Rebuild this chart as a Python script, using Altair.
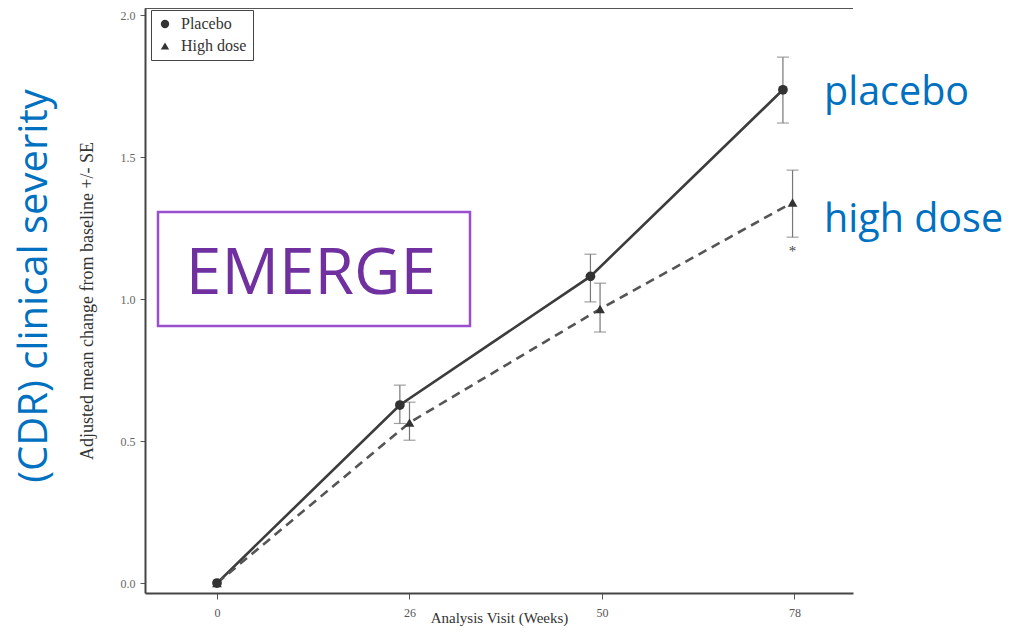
import json
import altair as alt
import pandas as pd

# ---------------- data ----------------
visit_weeks = ["0", "26", "50", "78"]
visit_index = [0, 1, 2, 3]
series_names = ["Placebo", "High dose"]

placebo_pos = [0, 0.95, 1.94, 2.94]
placebo_mean = [0.0, 0.627, 1.08, 1.737]
placebo_lo = [0.0, 0.562, 0.99, 1.62]
placebo_hi = [0.0, 0.697, 1.158, 1.852]

high_pos = [0, 1.0, 1.99, 2.99]
high_mean = [0.0, 0.565, 0.965, 1.34]
high_lo = [0.0, 0.503, 0.884, 1.218]
high_hi = [0.0, 0.637, 1.056, 1.454]

sig_pos = [2.99]
sig_y = [1.17]
sig_text = ["*"]

left_label = ["(CDR) clinical severity"]
right_labels = ["placebo", "high dose"]
study_label = ["EMERGE"]

# ---------------- tables ----------------
rows = []
for p, m, lo, hi in zip(placebo_pos, placebo_mean, placebo_lo, placebo_hi):
    rows.append({"group": series_names[0], "pos": p, "mean": m, "lo": lo, "hi": hi})
for p, m, lo, hi in zip(high_pos, high_mean, high_lo, high_hi):
    rows.append({"group": series_names[1], "pos": p, "mean": m, "lo": lo, "hi": hi})
df = pd.DataFrame(rows)
sig_df = pd.DataFrame({"pos": sig_pos, "y": sig_y, "t": sig_text})

W, H = 708, 585
SERIF = "Liberation Serif"
BLUE = "#0070C0"

xscale = alt.Scale(domain=[-0.374, 3.304], nice=False, zero=False)
yscale = alt.Scale(domain=[-0.035, 2.025], nice=False, zero=False)

xaxis = alt.Axis(
    values=visit_index,
    labelExpr=json.dumps(visit_weeks) + "[datum.value]",
    title="Analysis Visit (Weeks)",
    grid=False,
    domainColor="#444", domainWidth=2,
    tickColor="#555", tickSize=6, tickWidth=1,
    labelFont=SERIF, labelFontSize=12, labelColor="#555", labelPadding=8,
    titleFont=SERIF, titleFontSize=15, titleFontWeight="normal",
    titleColor="#333", titlePadding=-8,
)
yaxis = alt.Axis(
    values=[0, 0.5, 1.0, 1.5, 2.0],
    format=".1f",
    title="Adjusted mean change from baseline +/- SE",
    grid=False,
    domainColor="#444", domainWidth=2,
    tickColor="#555", tickSize=5, tickWidth=1,
    labelFont=SERIF, labelFontSize=12, labelColor="#666", labelPadding=5,
    titleFont=SERIF, titleFontSize=18, titleFontWeight="normal",
    titleColor="#333", titlePadding=24,
)

X = alt.X("pos:Q", scale=xscale, axis=xaxis)
Y = alt.Y("mean:Q", scale=yscale, axis=yaxis)

base = alt.Chart(df)

top_border = alt.Chart(pd.DataFrame({"k": [0]})).mark_rule(
    color="#555", strokeWidth=2
).encode(x=alt.value(0), x2=alt.value(W), y=alt.value(0))

err_data = base.transform_filter("datum.pos > 0")
err_rule = err_data.mark_rule(color="#777", strokeWidth=1.2).encode(
    x=X, y=alt.Y("lo:Q", scale=yscale, axis=yaxis), y2="hi:Q"
)
cap_lo = err_data.mark_tick(orient="horizontal", size=12, thickness=1.2, color="#777").encode(
    x=X, y=alt.Y("lo:Q", scale=yscale, axis=yaxis)
)
cap_hi = err_data.mark_tick(orient="horizontal", size=12, thickness=1.2, color="#777").encode(
    x=X, y=alt.Y("hi:Q", scale=yscale, axis=yaxis)
)

line_placebo = base.transform_filter(
    alt.datum.group == series_names[0]
).mark_line(color="#3c3c3c", strokeWidth=2.6).encode(x=X, y=Y, order="pos:Q")

line_high = base.transform_filter(
    alt.datum.group == series_names[1]
).mark_line(color="#555555", strokeWidth=2.6, strokeDash=[9, 6]).encode(x=X, y=Y, order="pos:Q")

points = base.mark_point(filled=True, color="#333", opacity=1, size=95).encode(
    x=X,
    y=Y,
    shape=alt.Shape(
        "group:N",
        scale=alt.Scale(domain=series_names, range=["circle", "triangle-up"]),
        legend=alt.Legend(
            title=None,
            orient="none",
            legendX=6,
            legendY=2,
            direction="vertical",
            fillColor="white",
            strokeColor="#444",
            padding=6,
            rowPadding=6,
            labelFont=SERIF,
            labelFontSize=16,
            labelColor="#333",
            labelOffset=8,
            symbolSize=70,
            symbolFillColor="#333",
            symbolStrokeColor="#333",
            symbolStrokeWidth=0,
        ),
    ),
)

sig = alt.Chart(sig_df).mark_text(
    font=SERIF, fontSize=15, color="#444", baseline="middle", align="center"
).encode(x=alt.X("pos:Q", scale=xscale, axis=xaxis), y=alt.Y("y:Q", scale=yscale, axis=yaxis), text="t:N")

emerge_box = alt.Chart(pd.DataFrame({"k": [0]})).mark_rect(
    fill="white", stroke="#9A4FCF", strokeWidth=2.5
).encode(x=alt.value(13), x2=alt.value(325), y=alt.value(204), y2=alt.value(318))

emerge_text = alt.Chart(pd.DataFrame({"t": study_label})).mark_text(
    font="Open Sans", fontSize=64, color="#7030A0", align="center", baseline="alphabetic"
).encode(text="t:N", x=alt.value(166), y=alt.value(286))

left_text = alt.Chart(pd.DataFrame({"t": left_label})).mark_text(
    font="Open Sans", fontSize=40, color=BLUE, align="center", baseline="middle", angle=270
).encode(text="t:N", x=alt.value(-110), y=alt.value(278))

right_df = pd.DataFrame({"t": right_labels, "yy": [85, 212]})
right_text = alt.Chart(right_df).mark_text(
    font="Open Sans", fontSize=39.5, color=BLUE, align="left", baseline="middle"
).encode(text="t:N", x=alt.value(679), y=alt.Y("yy:Q", scale=None, axis=None))

chart = alt.layer(
    top_border, err_rule, cap_lo, cap_hi, line_placebo, line_high, points, sig,
    emerge_box, emerge_text, left_text, right_text,
).properties(
    width=W,
    height=H,
    padding={"left": 137, "top": 0, "right": 149, "bottom": 33},
    autosize=alt.AutoSizeParams(type="none"),
    background="white",
).configure_view(stroke=None)

chart.save("out.html", embed_options={"renderer": "svg", "actions": False})
